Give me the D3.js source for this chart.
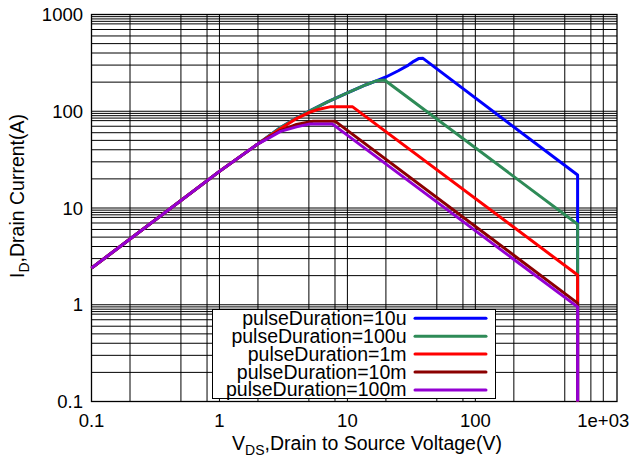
<!DOCTYPE html>
<html>
<head>
<meta charset="utf-8">
<script src="https://cdn.jsdelivr.net/npm/d3@7"></script>
<style>
  body { margin: 0; background: #fff; }
  text { font-family: "Liberation Sans", Arial, Helvetica, sans-serif; fill: #000; }
</style>
</head>
<body>
<svg width="636" height="460"></svg>
<script>
// series: [V, I]
var pulse10u = [[0.1, 2.39], [1, 23.9], [2, 46], [3, 68], [4, 85], [5, 100], [7, 125], [10, 155], [14, 188],
  [17, 207], [20, 226], [25, 262], [30, 300], [33, 328], [36, 350], [39, 352], [630, 21.9], [630, 0.1]];
var pulse100u = [[0.1, 2.39], [1, 23.9], [2, 46], [3, 68], [4, 85], [5, 100], [7, 125], [10, 155], [14, 188],
  [17, 207], [19.5, 210], [630, 6.8], [630, 0.1]];
var pulse1m = [[0.1, 2.39], [1, 23.9], [2, 46], [3, 66], [4, 84], [5, 97], [6, 105], [7.3, 111], [11, 111],
  [630, 2.03], [630, 0.1]];
var pulse10m = [[0.1, 2.39], [1, 23.9], [2, 46], [2.5, 55], [3, 63], [4, 73], [5.4, 79], [8, 79],
  [630, 1.04], [630, 0.1]];
var pulse100m = [[0.1, 2.39], [1, 23.9], [2, 46], [2.5, 54], [3, 62], [4, 69], [5.1, 74], [7.6, 74],
  [630, 0.95], [630, 0.1]];

var seriesNames = ['pulseDuration=10u', 'pulseDuration=100u', 'pulseDuration=1m', 'pulseDuration=10m', 'pulseDuration=100m'];
var seriesData = [pulse10u, pulse100u, pulse1m, pulse10m, pulse100m];
var seriesColors = ['#0000ff', '#2e8b57', '#ff0000', '#8b0000', '#9400d3'];

var xTicks = [0.1, 1, 10, 100, 1000];
var xTickLabels = ['0.1', '1', '10', '100', '1e+03'];
var yTicks = [0.1, 1, 10, 100, 1000];
var yTickLabels = ['0.1', '1', '10', '100', '1000'];
var decades = [0.1, 1, 10, 100];
var xGridSteps = [1, 2, 5, 8];
var yGridSteps = [1, 2, 3, 4, 5, 6, 7, 8, 8.5, 9, 9.5];

var plotL = 91.5, plotR = 617, plotT = 14.5, plotB = 401.5;

var x = d3.scaleLog().domain([0.1, 1280]).range([plotL, plotR]);
var y = d3.scaleLog().domain([0.1, 1000]).range([plotB, plotT]);

var svg = d3.select('svg');

// grid
var xGrid = [], yGrid = [];
decades.forEach(function (d) {
  xGridSteps.forEach(function (s) { xGrid.push(d * s); });
  yGridSteps.forEach(function (s) { yGrid.push(d * s); });
});
xGrid.push(1000);

svg.append('g').selectAll('line')
  .data(xGrid)
  .enter()
  .append('line')
  .attr('x1', d => x(d)).attr('x2', d => x(d))
  .attr('y1', plotT).attr('y2', plotB)
  .attr('stroke', '#000').attr('stroke-width', 1);

svg.append('g').selectAll('line')
  .data(yGrid)
  .enter()
  .append('line')
  .attr('x1', plotL).attr('x2', plotR)
  .attr('y1', d => y(d)).attr('y2', d => y(d))
  .attr('stroke', '#000').attr('stroke-width', 1);

// frame
svg.append('rect')
  .attr('x', plotL).attr('y', plotT)
  .attr('width', plotR - plotL).attr('height', plotB - plotT)
  .attr('fill', 'none').attr('stroke', '#000').attr('stroke-width', 1.3);

// tick labels
svg.append('g').selectAll('text')
  .data(xTicks)
  .enter()
  .append('text')
  .attr('x', d => x(d))
  .attr('y', 427)
  .attr('text-anchor', 'middle')
  .attr('font-size', '18.5px')
  .text((d, i) => xTickLabels[i]);

svg.append('g').selectAll('text')
  .data(yTicks)
  .enter()
  .append('text')
  .attr('x', 83)
  .attr('y', d => y(d) + 6.5)
  .attr('text-anchor', 'end')
  .attr('font-size', '18.5px')
  .text((d, i) => yTickLabels[i]);

// axis titles
var xTitle = svg.append('text')
  .attr('x', 367).attr('y', 450)
  .attr('text-anchor', 'middle')
  .attr('font-size', '19.5px');
xTitle.append('tspan').text('V');
xTitle.append('tspan').attr('font-size', '14px').attr('dy', 5).text('DS');
xTitle.append('tspan').attr('dy', -5).text(',Drain to Source Voltage(V)');

var yTitle = svg.append('text')
  .attr('transform', 'translate(24,196) rotate(-90)')
  .attr('text-anchor', 'middle')
  .attr('font-size', '19.5px');
yTitle.append('tspan').text('I');
yTitle.append('tspan').attr('font-size', '14px').attr('dy', 5).text('D');
yTitle.append('tspan').attr('dy', -5).text(',Drain Current(A)');

// curves
var line = d3.line()
  .x(d => x(d[0]))
  .y(d => y(d[1]));

svg.append('g').selectAll('path')
  .data(seriesData)
  .enter()
  .append('path')
  .attr('d', line)
  .attr('fill', 'none')
  .attr('stroke', (d, i) => seriesColors[i])
  .attr('stroke-width', 3)
  .attr('stroke-linejoin', 'round');

// legend
var legend = svg.append('g');
legend.append('rect')
  .attr('x', 212.5).attr('y', 309.5)
  .attr('width', 283).attr('height', 89)
  .attr('fill', '#fff').attr('stroke', '#000').attr('stroke-width', 1);

var rows = legend.selectAll('g.row')
  .data(seriesNames)
  .enter()
  .append('g')
  .attr('class', 'row')
  .attr('transform', (d, i) => 'translate(0,' + (318.3 + i * 17.9) + ')');

rows.append('text')
  .attr('x', 406.5)
  .attr('y', 6.5)
  .attr('text-anchor', 'end')
  .attr('font-size', '19.5px')
  .text(d => d);

rows.append('line')
  .attr('x1', 415).attr('x2', 486)
  .attr('y1', 0).attr('y2', 0)
  .attr('stroke', (d, i) => seriesColors[i])
  .attr('stroke-width', 3)
  .attr('stroke-linecap', 'round');
</script>
</body>
</html>
